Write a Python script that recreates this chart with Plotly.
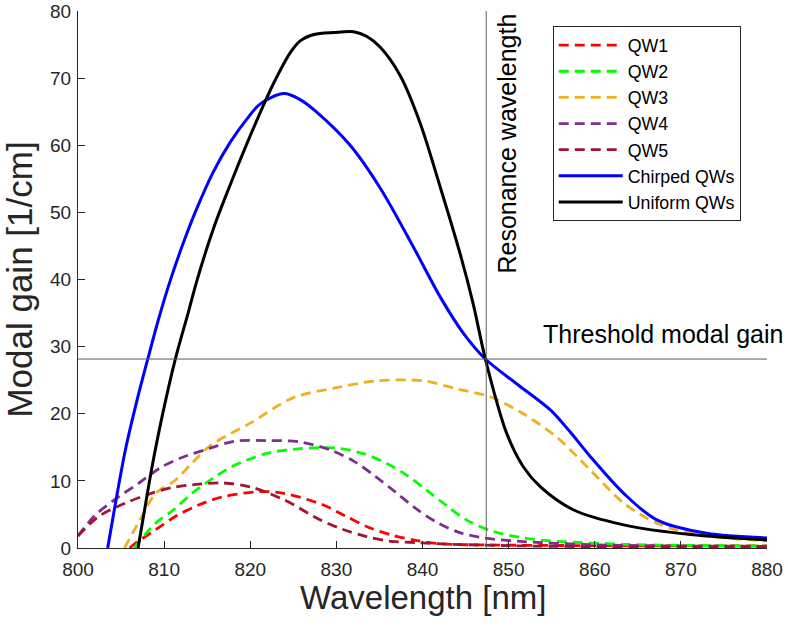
import plotly.graph_objects as go

# ---------------- data ----------------
qw1_x = [806.0, 806.65, 809.0, 811.3, 814.0, 816.7, 821.2, 823.9, 828.5, 831.0, 833.7, 836.5, 839.4, 842.3, 847.9, 860.0, 880.0]
qw1_y = [0.0, 0.7, 2.7, 4.7, 6.4, 7.6, 8.4, 8.15, 6.4, 4.8, 3.1, 1.9, 1.1, 0.6, 0.45, 0.35, 0.3]

qw2_x = [806.5, 809.0, 811.1, 813.2, 815.9, 818.0, 821.9, 825.8, 829.9, 833.0, 835.7, 838.1, 840.5, 842.8, 845.2,
         847.9, 851.7, 855.6, 863.35, 870.0, 880.0]
qw2_y = [0.0, 3.7, 5.7, 8.1, 10.6, 12.2, 14.1, 14.8, 14.9, 14.1, 12.7, 10.9, 8.6, 6.3, 4.1,
         2.6, 1.5, 1.0, 0.55, 0.4, 0.3]

qw3_x = [805.4, 807.2, 809.0, 811.3, 813.2, 815.4, 820.0, 825.0, 829.7, 834.7, 840.1, 844.0, 847.9, 851.7, 855.6,
         859.5, 863.35, 867.2, 871.1, 875.0, 880.0]
qw3_y = [0.0, 4.2, 8.1, 10.1, 12.6, 15.3, 18.6, 22.4, 23.8, 24.9, 24.9, 23.7, 22.5, 20.0, 16.5,
         11.6, 6.7, 3.7, 2.2, 1.5, 1.1]

qw4_x = [800.0, 802.0, 804.7, 807.0, 809.75, 812.3, 815.2, 818.1, 821.9, 825.8, 829.5, 832.2, 834.5, 836.8, 839.2,
         841.7, 844.3, 847.1, 851.7, 859.5, 870.0, 880.0]
qw4_y = [1.8, 4.9, 7.6, 9.6, 12.1, 13.6, 14.8, 15.9, 16.0, 15.8, 14.5, 12.8, 10.7, 8.4, 5.9,
         3.8, 2.3, 1.5, 0.95, 0.5, 0.3, 0.25]

qw5_x = [800.0, 802.4, 805.5, 808.4, 810.9, 814.0, 816.7, 820.0, 823.9, 828.1, 830.7, 833.5, 836.3, 839.4, 842.3,
         850.0, 860.0, 880.0]
qw5_y = [1.8, 4.7, 6.7, 8.1, 9.0, 9.5, 9.7, 9.1, 7.2, 4.2, 2.8, 1.7, 1.0, 0.8, 0.6,
         0.35, 0.2, 0.15]

chirped_x = [803.45, 804.3, 805.5, 806.85, 808.1, 809.4, 810.7, 812.3, 813.8, 815.7, 817.7, 819.6, 821.2, 823.9,
             825.8, 827.75, 831.6, 835.1, 839.0, 842.1, 844.8, 847.3, 851.0, 854.9, 857.2, 859.5, 863.35,
             867.2, 873.0, 880.0]
chirped_y = [0.0, 6.3, 14.6, 22.0, 28.15, 34.3, 39.8, 45.7, 50.6, 56.0, 60.5, 63.9, 66.2, 67.7,
             66.8, 64.9, 60.0, 53.6, 44.7, 37.3, 31.9, 28.15, 24.4, 20.5, 17.2, 13.6, 8.15,
             4.2, 2.2, 1.5]

uniform_x = [806.97, 807.6, 808.6, 809.75, 811.3, 812.85, 813.8, 815.7, 817.7, 819.6, 821.55, 822.7, 824.65, 825.8,
             827.4, 829.7, 832.0, 833.55, 835.1, 837.4, 839.7, 842.1, 844.4, 845.9, 847.3, 849.8, 851.7,
             853.7, 857.5, 863.35, 871.1, 880.0]
uniform_y = [0.0, 4.7, 12.1, 19.5, 28.15, 35.3, 39.8, 47.5, 54.2, 60.2, 66.0, 69.2, 73.8, 75.55,
             76.5, 76.8, 76.9, 76.2, 74.6, 70.4, 63.4, 53.6, 43.7, 36.3, 28.15, 17.0, 12.1,
             9.1, 5.7, 3.45, 2.0, 1.2]

names = ["QW1", "QW2", "QW3", "QW4", "QW5", "Chirped QWs", "Uniform QWs"]
colors = ["#FF0000", "#00FF00", "#EDB120", "#7E2F8E", "#A2142F", "#0000FF", "#000000"]

threshold_gain = 28.15
resonance_wl = 847.4

x_range = [800, 880]
y_range = [0, 80]

# ---------------- figure ----------------
FONT = "Arial, 'Liberation Sans', Helvetica, sans-serif"
fig = go.Figure()

series = [(qw1_x, qw1_y), (qw2_x, qw2_y), (qw3_x, qw3_y), (qw4_x, qw4_y), (qw5_x, qw5_y),
          (chirped_x, chirped_y), (uniform_x, uniform_y)]
for i, ((xs, ys), nm, col) in enumerate(zip(series, names, colors)):
    dashed = i < 5
    fig.add_trace(go.Scatter(
        x=xs, y=ys, mode="lines", name=nm, legendgroup=nm,
        line=dict(color=col, width=3 if not dashed else 2.8, shape="spline", smoothing=0.9,
                  dash="10px,6px" if dashed else "solid"),
    ))

fig.add_hline(y=threshold_gain, line=dict(color="#5a5a5a", width=1))
fig.add_vline(x=resonance_wl, line=dict(color="#5a5a5a", width=1))

fig.add_annotation(text="Threshold modal gain", xref="paper", yref="y",
                   x=1.026, y=31.9, xanchor="right", yanchor="middle", showarrow=False,
                   font=dict(family=FONT, size=25, color="#000000"))
fig.add_annotation(text="Resonance wavelength", xref="x", yref="y",
                   x=849.85, y=60.3, xanchor="center", yanchor="middle", textangle=-90,
                   showarrow=False, font=dict(family=FONT, size=25, color="#000000"))
# x-axis title (placed as text so it can sit as close to the tick labels as in the original)
fig.add_annotation(text="Wavelength [nm]", xref="paper", yref="paper",
                   x=0.5, y=-0.093, xanchor="center", yanchor="middle", showarrow=False,
                   font=dict(family=FONT, size=33, color="#262626"))

axis_common = dict(showline=True, linecolor="#262626", linewidth=1, ticks="inside", ticklen=7,
                   tickcolor="#262626", tickfont=dict(family=FONT, size=19, color="#262626"),
                   showgrid=False, zeroline=False, mirror=False, ticklabeloverflow="allow",
                   automargin=False)

fig.update_layout(
    width=788, height=629,
    margin=dict(l=78, r=21, t=11, b=81),
    paper_bgcolor="white", plot_bgcolor="white",
    font=dict(family=FONT, color="#262626"),
    xaxis=dict(range=x_range, dtick=10, tick0=800, ticklabelstandoff=4, **axis_common),
    yaxis=dict(range=y_range, dtick=10, tick0=0, ticklabelstandoff=2,
               title=dict(text="Modal gain [1/cm]", font=dict(family=FONT, size=35, color="#262626"), standoff=8),
               **axis_common),
    legend=dict(x=0.689, y=0.972, xanchor="left", yanchor="top",
                bgcolor="white", bordercolor="#262626", borderwidth=1,
                font=dict(family=FONT, size=17.8, color="#000000"),
                traceorder="normal", itemwidth=64),
    showlegend=True,
)

fig.write_html("out.html")
